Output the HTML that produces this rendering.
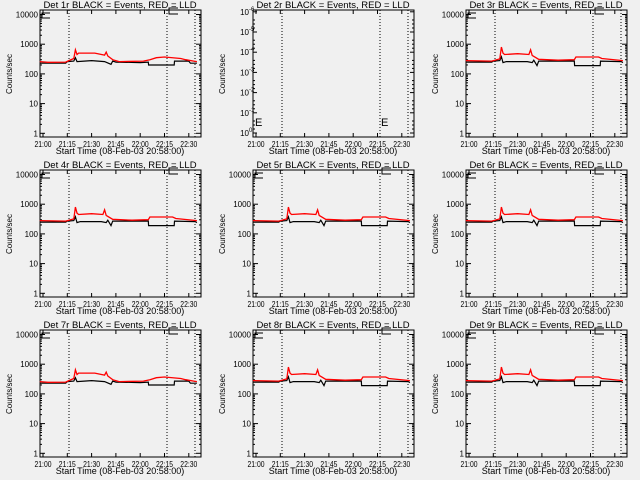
<!DOCTYPE html>
<html><head><meta charset="utf-8"><style>
html,body{margin:0;padding:0;background:#f0f0f0;width:640px;height:480px;overflow:hidden}
svg text{font-family:"Liberation Sans",sans-serif;font-size:8px;fill:#000}
</style></head><body>
<svg id="s" width="640" height="480" xmlns="http://www.w3.org/2000/svg"></svg>
<script>
const S=document.getElementById('s');let h='';
const X=t=>43+t*24.3/15;
const blackA=[[-2,230],[14,230],[15,260],[19,270],[20,350],[21,260],[30,280],[38,260],[42,210],[43,270],[45,250],[60,240],[65,250],[65.2,200],[81,200],[81.2,270],[90,270],[91,230],[95,230]];
const redA=[[-2,260],[3,245],[14,250],[16,280],[19,330],[20,650],[21,450],[22,500],[32,500],[38,430],[39,540],[40,400],[43,300],[47,260],[62,270],[66,300],[70,350],[75,370],[85,330],[88,300],[93,270],[95,260]];
const blackB=[[-2,250],[14,250],[15,270],[19,280],[20,380],[21,240],[23,260],[36,260],[39,240],[40,290],[42,190],[43,270],[65,270],[65.2,190],[81,190],[81.2,270],[94,260],[95,240]];
const redB=[[-2,280],[14,270],[16,290],[19,320],[20,800],[21,500],[22,450],[30,480],[37,450],[38,650],[39,420],[43,310],[55,290],[65,300],[66,370],[80,370],[82,330],[95,280]];
function path(d,y,ox,oy,col,w){let p='';d.forEach((q,i)=>{p+=(i?'L':'M')+(ox+X(q[0])).toFixed(1)+' '+(oy+y(q[1])).toFixed(1)});return `<path d="${p}" fill="none" stroke="${col}" stroke-width="${w}"/>`;}
const labs=['21:00','21:15','21:30','21:45','22:00','22:15','22:30'];
for(let r=0;r<3;r++)for(let c=0;c<3;c++){
 const n=r*3+c+1,ox=c*213,oy=r*160;
 const L=ox+40,R=ox+201,T=oy+10,B=oy+137;
 h+=`<text x="${ox+120}" y="${oy+8}" text-anchor="middle" style="font-size:9.5px">Det ${n}r BLACK = Events, RED = LLD</text>`;
 h+=`<rect x="${L}" y="${T}" width="${R-L}" height="${B-T}" fill="none" stroke="#000" stroke-width="1"/>`;
 [29,127,155].forEach(dx=>h+=`<line x1="${L+dx}" y1="${T}" x2="${L+dx}" y2="${B}" stroke="#000" stroke-dasharray="1,2"/>`);
 labs.forEach((l,i)=>{const x=ox+X(i*15);h+=`<line x1="${x}" y1="${B}" x2="${x}" y2="${B-4}" stroke="#000"/><line x1="${x}" y1="${T}" x2="${x}" y2="${T+4}" stroke="#000"/><text x="${x}" y="${B+10}" text-anchor="middle" textLength="17" lengthAdjust="spacingAndGlyphs">${l}</text>`;});
 h+=`<text x="${ox+120}" y="${oy+154}" text-anchor="middle" style="font-size:9px">Start Time (08-Feb-03 20:58:00)</text>`;
 h+=`<text transform="translate(${ox+12},${oy+74}) rotate(-90)" text-anchor="middle" style="font-size:8px">Counts/sec</text>`;
 if(n==2){
  const y=v=>133-20.2*(v);
  for(let k=0;k<=6;k++){const yy=oy+y(k);h+=`<line x1="${L}" y1="${yy}" x2="${L+4}" y2="${yy}" stroke="#000"/><line x1="${R}" y1="${yy}" x2="${R-4}" y2="${yy}" stroke="#000"/><text x="${L-4}" y="${yy+3}" text-anchor="end">10</text><text x="${L-4}" y="${yy-1}" style="font-size:6px">${k?'-'+k:'0'}</text>`;
   for(let m=1;m<4;m++){const ym=yy-m*4;if(k<6){h+=`<line x1="${L}" y1="${ym}" x2="${L+2}" y2="${ym}" stroke="#000"/><line x1="${R}" y1="${ym}" x2="${R-2}" y2="${ym}" stroke="#000"/>`;}}}
  h+=`<text x="${L+2}" y="${oy+126}" style="font-size:11px">E</text><text x="${ox+168}" y="${oy+126}" style="font-size:11px">E</text>`;
 } else {
  const y=v=>133.3-29.7*Math.log10(v);
  [1,10,100,1000,10000].forEach(v=>{const yy=oy+y(v);h+=`<line x1="${L}" y1="${yy}" x2="${L+5}" y2="${yy}" stroke="#000"/><line x1="${R}" y1="${yy}" x2="${R-5}" y2="${yy}" stroke="#000"/><text x="${L-2}" y="${yy+3}" text-anchor="end" style="font-size:8px">${v}</text>`;
   if(v<10000)for(let m=2;m<10;m++){const ym=oy+y(v*m);h+=`<line x1="${L}" y1="${ym}" x2="${L+2}" y2="${ym}" stroke="#000"/><line x1="${R}" y1="${ym}" x2="${R-2}" y2="${ym}" stroke="#000"/>`;}});
  h+=`<path d="M${L+10} ${T+3}H${L+2}V${T+8}H${L+10}" fill="none" stroke="#000"/><path d="M${ox+178} ${T-2}H${ox+169}V${T+4}H${ox+178}" fill="none" stroke="#000"/>`;
  const A=(n==1||n==7);
  h+=path(A?blackA:blackB,y,ox,oy,'#000',1.2);
  h+=path(A?redA:redB,y,ox,oy,'#f00',1.3);
 }
}
S.innerHTML=h;
</script>
</body></html>
